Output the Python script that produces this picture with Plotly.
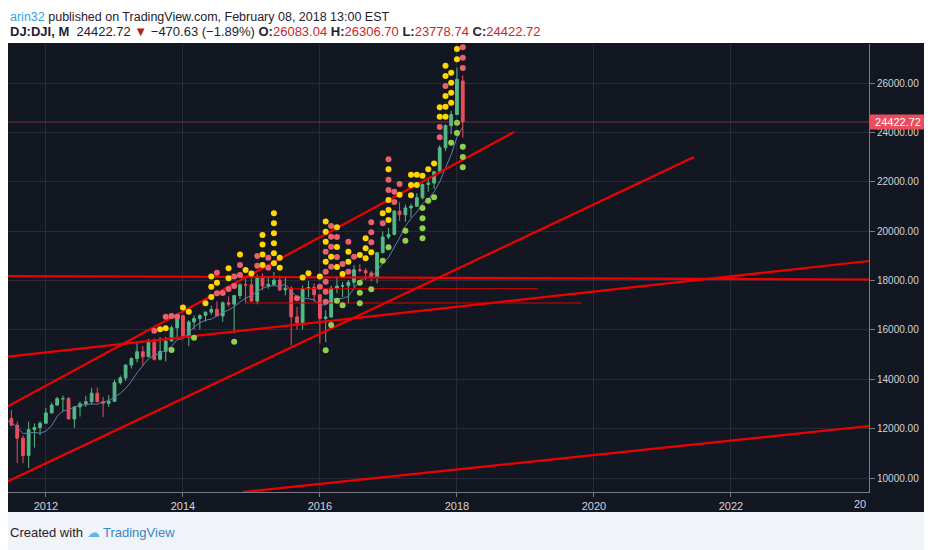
import pandas as pd
import plotly.graph_objects as go

# monthly DJI bars, Jun 2011 .. Feb 2018
months = pd.date_range("2011-06-01", periods=81, freq="MS")
opens = [12570, 12414, 12143, 11614, 10913, 11955, 12046,
         12218, 12633, 12952, 13212, 13214, 12393, 12880, 13009, 13091, 13437, 13096, 13025,
         13104, 13861, 14054, 14579, 14840, 15116, 14910, 15500, 14810, 15130, 15546, 16086,
         16577, 15699, 16322, 16458, 16581, 16717, 16827, 16563, 17098, 17043, 17391, 17828,
         17823, 17165, 18133, 17776, 17841, 18011, 17620, 17690, 16528, 16285, 17664, 17720,
         17425, 16466, 16517, 17685, 17774, 17787, 17930, 18432, 18401, 18308, 18142, 19124,
         19763, 19864, 20812, 20663, 20940, 21009, 21350, 21891, 21948, 22405, 23377, 24272,
         24719, 26083]
highs = [12570, 12753, 12285, 11717, 12284, 12207, 12300,
         12842, 13055, 13290, 13338, 13280, 12898, 13100, 13330, 13653, 13662, 13290, 13358,
         13969, 14149, 14585, 14887, 15542, 15340, 15634, 15658, 15710, 15722, 16174, 16588,
         16589, 16398, 16588, 16632, 16736, 16978, 17151, 17154, 17350, 17395, 17894, 18103,
         18094, 18244, 18289, 18175, 18351, 18200, 18137, 17770, 16933, 17799, 17978, 17888,
         17425, 16795, 17790, 18167, 17934, 18016, 18622, 18668, 18495, 18399, 19152, 19987,
         20126, 20851, 21169, 21070, 21112, 21535, 21929, 22179, 22420, 23485, 24328, 24876,
         26617, 26307]
lows = [11862, 12093, 10604, 10597, 10404, 11231, 11735,
        12218, 12633, 12952, 12710, 12400, 12035, 12492, 12880, 12977, 13052, 12471, 12883,
        13104, 13784, 13937, 14434, 14680, 14552, 14910, 14761, 14760, 14720, 15546, 15704,
        15699, 15341, 16015, 16015, 16333, 16618, 16563, 16334, 16945, 15855, 17245, 17068,
        17136, 17037, 17602, 17665, 17793, 17570, 17399, 15370, 16013, 16013, 17320, 17139,
        15451, 15503, 16505, 17484, 17331, 17063, 17713, 18336, 18022, 17959, 17883, 19122,
        19677, 19832, 20412, 20379, 20553, 21003, 21279, 21600, 21709, 22405, 23242, 23921,
        24719, 23779]
closes = [12414, 12143, 11614, 10913, 11955, 12046, 12218,
          12633, 12952, 13212, 13214, 12393, 12880, 13009, 13091, 13437, 13096, 13025, 13104,
          13861, 14054, 14579, 14840, 15116, 14910, 15500, 14810, 15130, 15546, 16086, 16577,
          15699, 16322, 16458, 16581, 16717, 16827, 16563, 17098, 17043, 17391, 17828, 17823,
          17165, 18133, 17776, 17841, 18011, 17620, 17690, 16528, 16285, 17664, 17720, 17425,
          16466, 16517, 17685, 17774, 17787, 17930, 18432, 18401, 18308, 18142, 19124, 19763,
          19864, 20812, 20663, 20940, 21009, 21350, 21891, 21948, 22405, 23377, 24272, 24719,
          26149, 24422.72]
# thin moving average under the candles
ma_line = [12350, 12250, 12050, 11800, 11820, 11848, 11815,
           11897, 12120, 12503, 12713, 12770, 12881, 12943, 12967, 13004, 12984, 13090, 13127,
           13269, 13430, 13620, 13911, 14259, 14560, 14833, 14959, 15051, 15169, 15330, 15608,
           15641, 15893, 16115, 16287, 16392, 16434, 16578, 16707, 16805, 16940, 17125, 17291,
           17391, 17564, 17686, 17761, 17792, 17758, 17845, 17578, 17329, 17300, 17251, 17219,
           17015, 17013, 17246, 17265, 17276, 17360, 17688, 18002, 18105, 18167, 18390, 18695,
           18934, 19336, 19728, 20194, 20509, 20773, 21111, 21300, 21591, 21997, 22541, 23102,
           23812, 24224]

# indicator dots
yellow_x = ["2013-09", "2013-10", "2014-01", "2014-02", "2014-05", "2014-06", "2014-06", "2014-06",
            "2014-07", "2014-09", "2014-09", "2014-11", "2014-12", "2015-01",
            "2015-03", "2015-03", "2015-03", "2015-03",
            "2015-05", "2015-05", "2015-05", "2015-05", "2015-05", "2015-05", "2015-06", "2015-06",
            "2015-10", "2015-11", "2016-01", "2016-02", "2016-02", "2016-02", "2016-02", "2016-03",
            "2016-04", "2016-04", "2016-04", "2016-05", "2016-06", "2016-06", "2016-08",
            "2016-09", "2016-09", "2016-09", "2016-10", "2016-12",
            "2017-01", "2017-01", "2017-01", "2017-01", "2017-03",
            "2017-05", "2017-05", "2017-05", "2017-06", "2017-06", "2017-07", "2017-08", "2017-09",
            "2017-10", "2017-10", "2017-11", "2017-11", "2017-11", "2017-11", "2017-11",
            "2017-12", "2017-12", "2017-12", "2017-12", "2018-01", "2018-01"]
yellow_y = [16025, 16065, 16908, 16738, 17078, 18163, 17750, 17333,
            17912, 18495, 18090, 19054, 18426, 18285,
            19844, 19459, 19054, 18629,
            20723, 20318, 19913, 19508, 19103, 18698, 18925, 18520,
            18123, 18293, 18163, 20391, 19978, 19573, 18763, 18965,
            20156, 19358, 18548, 18265, 19168, 18763, 19034,
            19710, 19305, 18900, 19143, 20723,
            22505, 21261, 20857, 20452, 21476,
            22286, 21869, 21452, 22286, 21869, 22246, 22505, 22740,
            25016, 24635, 26700, 26284, 25474, 25040, 24635,
            26417, 26012, 25607, 25202, 27377, 26960]
red_x = ["2013-08", "2013-10", "2013-11", "2013-12", "2014-07", "2014-07", "2014-08", "2014-09",
         "2014-10", "2014-10", "2014-11", "2014-11", "2015-02", "2015-02", "2015-04", "2015-04",
         "2015-09", "2016-01", "2016-02", "2016-02", "2016-02", "2016-02", "2016-02",
         "2016-03", "2016-03", "2016-03", "2016-03", "2016-04", "2016-04", "2016-05",
         "2016-06", "2016-06", "2016-07", "2016-10", "2016-10", "2016-10", "2016-12",
         "2017-01", "2017-01", "2017-01", "2017-02", "2017-02", "2017-03",
         "2017-10", "2017-10", "2017-11", "2018-02", "2018-02", "2018-02"]
red_y = [15968, 16535, 16564, 16535, 18317, 17483, 17495, 17657,
         18163, 17778, 18629, 18224, 18994, 18600, 18925, 18520,
         17280, 17750, 19168, 18358, 17953, 17548, 17143,
         20208, 19775, 19370, 18560, 19763, 18953, 18670,
         19573, 18358, 18965, 20358, 19953, 19548, 20318,
         22910, 22084, 21666, 21598, 21180, 21910,
         24218, 23801, 25878, 27446, 27025, 26608]
green_x = ["2013-11", "2014-03", "2014-10", "2016-02", "2016-03", "2016-04", "2016-05",
           "2016-08", "2016-08", "2016-08", "2016-10", "2016-12", "2017-01",
           "2017-04", "2017-04", "2017-07", "2017-07", "2017-07", "2017-07", "2017-08", "2017-09",
           "2017-12", "2018-01", "2018-01", "2018-02", "2018-02", "2018-02"]
green_y = [15186, 15685, 15523, 15174, 16199, 17183, 16997,
           17912, 17507, 17078, 17645, 18803, 19346,
           20018, 19613, 20938, 20520, 20115, 19710, 21233, 21371,
           23582, 24392, 23975, 23420, 23003, 22586]

# drawn trendlines (start date, start value, end date, end value)
trend_x0 = ["2011-06-08", "2011-06-08", "2011-06-08", "2011-06-08", "2014-11-17"]
trend_y0 = [12888, 9850, 14914, 18182, 9433]
trend_x1 = ["2018-11-01", "2021-06-18", "2024-01-07", "2024-01-07", "2024-01-07"]
trend_y1 = [24015, 23003, 18790, 18041, 12106]
level_x0 = ["2015-07-08", "2014-11-27"]
level_x1 = ["2019-03-09", "2019-10-28"]
level_y = [17668, 17089]

year_ticks = ["2012-01-01", "2014-01-01", "2016-01-01", "2018-01-01", "2020-01-01", "2022-01-01"]
year_text = ["2012", "2014", "2016", "2018", "2020", "2022"]
price_ticks = [10000, 12000, 14000, 16000, 18000, 20000, 22000, 24000, 26000]

fig = go.Figure()
fig.add_trace(go.Candlestick(
    x=months, open=opens, high=highs, low=lows, close=closes,
    increasing=dict(line=dict(color="#53b987", width=1), fillcolor="#53b987"),
    decreasing=dict(line=dict(color="#eb4d5c", width=1), fillcolor="#eb4d5c"),
    whiskerwidth=0, showlegend=False, hoverinfo="skip"))
fig.add_trace(go.Scatter(x=months, y=ma_line, mode="lines",
                         line=dict(color="#5d7fa8", width=1), showlegend=False))
for i in range(len(trend_x0)):
    fig.add_trace(go.Scatter(x=[trend_x0[i], trend_x1[i]], y=[trend_y0[i], trend_y1[i]],
                             mode="lines", line=dict(color="#f00000", width=2.2), showlegend=False))
for i in range(len(level_y)):
    fig.add_trace(go.Scatter(x=[level_x0[i], level_x1[i]], y=[level_y[i], level_y[i]],
                             mode="lines", line=dict(color="#e00000", width=1), showlegend=False))
fig.add_trace(go.Scatter(x=yellow_x, y=yellow_y, mode="markers",
                         marker=dict(color="#ffd600", size=6), showlegend=False))
fig.add_trace(go.Scatter(x=red_x, y=red_y, mode="markers",
                         marker=dict(color="#e8606b", size=6), showlegend=False))
fig.add_trace(go.Scatter(x=green_x, y=green_y, mode="markers",
                         marker=dict(color="#8fd14f", size=6), showlegend=False))

# last price line + label
fig.add_hline(y=closes[-1], line=dict(color="rgba(235,77,92,0.45)", width=1))
fig.add_annotation(xref="paper", yref="y", x=1.0, y=closes[-1], xanchor="left", yanchor="middle",
                   text=f"{closes[-1]:.2f}", showarrow=False, bgcolor="#eb4d5c", borderpad=1,
                   width=54, font=dict(color="white", size=11, family="Liberation Sans"))

# dark chart panel and light strips around it
fig.add_shape(type="rect", xref="paper", yref="paper", x0=-0.0023, x1=1.0662, y0=-0.0446, y1=1.0022,
              fillcolor="#131722", line_width=0, layer="below")
fig.add_shape(type="rect", xref="paper", yref="paper", x0=-0.02, x1=1.08, y0=-0.14, y1=-0.0446,
              fillcolor="#f0f3f7", line_width=0, layer="below")
fig.add_shape(type="rect", xref="paper", yref="paper", x0=1.0662, x1=1.08, y0=-0.0446, y1=1.0022,
              fillcolor="#f0f3f7", line_width=0, layer="below")

# header texts
fig.add_annotation(xref="paper", yref="paper", x=0.0, y=1.0804, xanchor="left", yanchor="top",
                   showarrow=False, font=dict(size=12.5, color="#1e222d", family="Liberation Sans"),
                   text="<span style='color:#3aa0e0'>arin32</span> published on TradingView.com, "
                        "February 08, 2018 13:00 EST")
fig.add_annotation(xref="paper", yref="paper", x=0.0, y=1.027, xanchor="left", yanchor="middle",
                   showarrow=False, font=dict(size=13, color="#1e222d", family="Liberation Sans"),
                   text="<b>DJ:DJI, M</b>  24422.72 <span style='color:#b71c1c'>▼</span> "
                        "−470.63 (−1.89%) <b>O:</b><span style='color:#c62828'>26083.04</span> "
                        "<b>H:</b><span style='color:#c62828'>26306.70</span> "
                        "<b>L:</b><span style='color:#c62828'>23778.74</span> "
                        "<b>C:</b><span style='color:#c62828'>24422.72</span>")
# footer
fig.add_annotation(xref="paper", yref="paper", x=0.0, y=-0.0893, xanchor="left", yanchor="middle",
                   showarrow=False, font=dict(size=13, color="#1e222d", family="Liberation Sans"),
                   text="Created with <span style='color:#62b6ea'>☁</span> "
                        "<span style='color:#3a86c8'>TradingView</span>")
# cut-off last year label
fig.add_annotation(xref="x", yref="paper", x="2024-01-01", y=0, xanchor="right", yanchor="top",
                   yshift=-4, showarrow=False, text="20",
                   font=dict(size=11, color="#d1d4dc", family="Liberation Sans"))

# the page adds an 8px body margin, so the figure is 8px smaller than the window
fig.update_layout(
    width=924, height=542,
    margin=dict(l=0, r=63, t=36, b=58),
    paper_bgcolor="#ffffff",
    plot_bgcolor="rgba(0,0,0,0)",
    boxgap=0.25,
    showlegend=False,
    hovermode=False,
)
fig.update_xaxes(
    type="date", range=["2011-06-13", "2024-01-07"],
    rangeslider_visible=False,
    tickvals=year_ticks, ticktext=year_text,
    ticks="outside", ticklen=4, tickcolor="#787b86",
    showline=True, linecolor="#787b86", linewidth=1,
    showgrid=True, gridcolor="#262b37", gridwidth=1,
    tickfont=dict(size=11, color="#d1d4dc", family="Liberation Sans"),
)
fig.update_yaxes(
    side="right", range=[9433, 27580],
    tickvals=price_ticks, tickformat=".2f",
    ticks="outside", ticklen=5, tickcolor="#787b86",
    showline=True, linecolor="#787b86", linewidth=1,
    showgrid=True, gridcolor="#262b37", gridwidth=1, zeroline=False,
    tickfont=dict(size=10, color="#d1d4dc", family="Liberation Sans"),
)

fig.write_html("out.html")
